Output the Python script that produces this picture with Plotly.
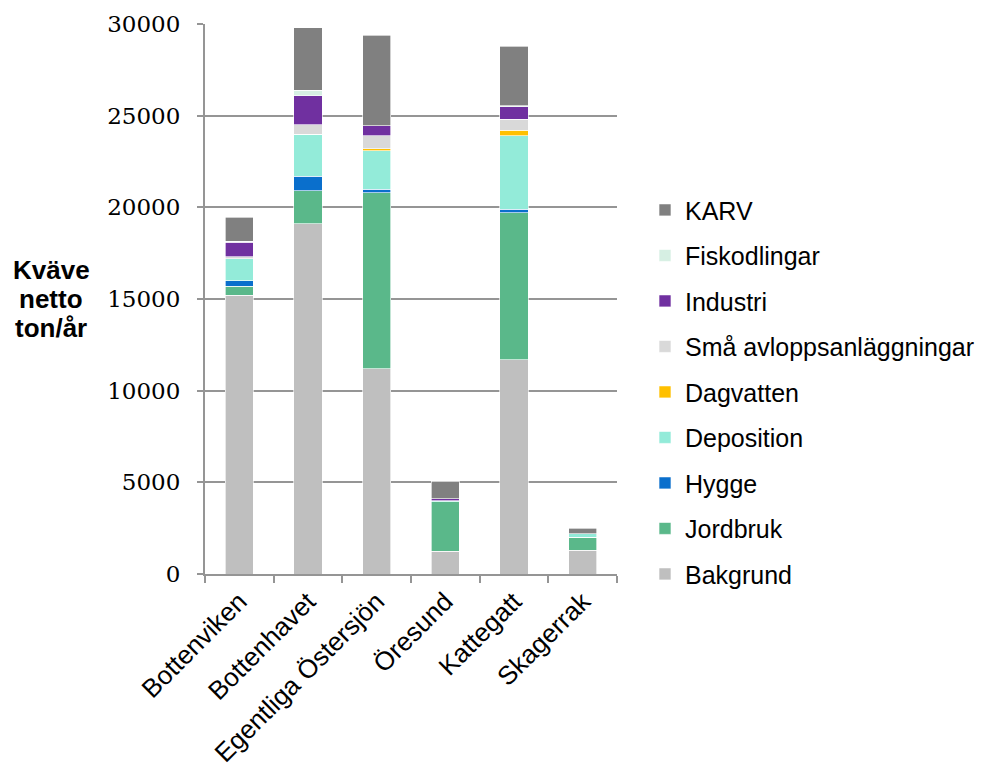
import plotly.graph_objects as go

# Havsområden (kategorier)
omraden = ["Bottenviken", "Bottenhavet", "Egentliga Östersjön", "Öresund", "Kattegatt", "Skagerrak"]

# Kvävebelastning netto (ton/år) per källa
bakgrund = [15200, 19100, 11200, 1250, 11700, 1300]
jordbruk = [500, 1800, 9600, 2700, 8000, 700]
hygge = [300, 800, 200, 0, 200, 0]
deposition = [1200, 2300, 2100, 50, 4000, 200]
dagvatten = [0, 0, 100, 0, 300, 0]
sma_avlopp = [100, 500, 700, 0, 600, 0]
industri = [800, 1600, 550, 100, 700, 0]
fiskodlingar = [50, 300, 0, 0, 50, 0]
karv = [1300, 3400, 4950, 950, 3250, 300]

kallor = [
    ("Bakgrund", bakgrund, "#bfbfbf"),
    ("Jordbruk", jordbruk, "#5ab88a"),
    ("Hygge", hygge, "#0a6fcc"),
    ("Deposition", deposition, "#93ebd9"),
    ("Dagvatten", dagvatten, "#ffc000"),
    ("Små avloppsanläggningar", sma_avlopp, "#d9d9d9"),
    ("Industri", industri, "#7030a0"),
    ("Fiskodlingar", fiskodlingar, "#d6efe3"),
    ("KARV", karv, "#808080"),
]

y_ticks = [0, 5000, 10000, 15000, 20000, 25000, 30000]

fig = go.Figure()
for i, (namn, varden, farg) in enumerate(kallor):
    fig.add_trace(go.Bar(
        x=omraden, y=varden, name=namn, legendgroup=namn,
        legendrank=100 - i,  # översta staplingen först i förklaringen
        marker=dict(color=farg, line=dict(color="rgba(255,255,255,0.8)", width=0.8)),
    ))

axis_grey = "#959595"
sans = "Arial, Liberation Sans, sans-serif"

fig.update_layout(
    width=987, height=767,
    barmode="stack", bargap=0.59,
    plot_bgcolor="white", paper_bgcolor="white",
    margin=dict(l=205, r=370, t=24, b=193),
    font=dict(family=sans, size=26, color="black"),
    legend=dict(
        xref="container", x=0.6535, xanchor="left",
        yref="container", y=0.756, yanchor="top",
        traceorder="grouped", tracegroupgap=10, maxheight=520,
        font=dict(family=sans, size=25, color="black"),
    ),
    xaxis=dict(
        tickangle=-45, tickson="boundaries", ticks="outside", ticklen=7,
        tickcolor=axis_grey, tickwidth=2, automargin=False,
        showline=True, linecolor=axis_grey, linewidth=2,
        tickfont=dict(family=sans, size=26, color="black"),
    ),
    yaxis=dict(
        range=[0, 30000], tickvals=y_ticks, ticktext=[str(v) for v in y_ticks],
        ticks="outside", ticklen=6, tickcolor=axis_grey, tickwidth=2,
        ticklabelstandoff=12, automargin=False,
        showline=True, linecolor=axis_grey, linewidth=2,
        showgrid=True, gridcolor=axis_grey, gridwidth=2,
        zeroline=False,
        tickfont=dict(family="DejaVu Serif, serif", size=23, color="black"),
    ),
)

# Y-axelns rubrik, horisontell på tre rader
for text, ypix in [("Kväve", 270), ("netto", 299), ("ton/år", 328)]:
    fig.add_annotation(
        text=f"<b>{text}</b>", xref="paper", yref="paper",
        x=(51 - 205) / 412, y=(574 - ypix) / 550,
        xanchor="center", yanchor="middle", showarrow=False,
        font=dict(family=sans, size=26, color="black"),
    )

fig.write_html("out.html")
